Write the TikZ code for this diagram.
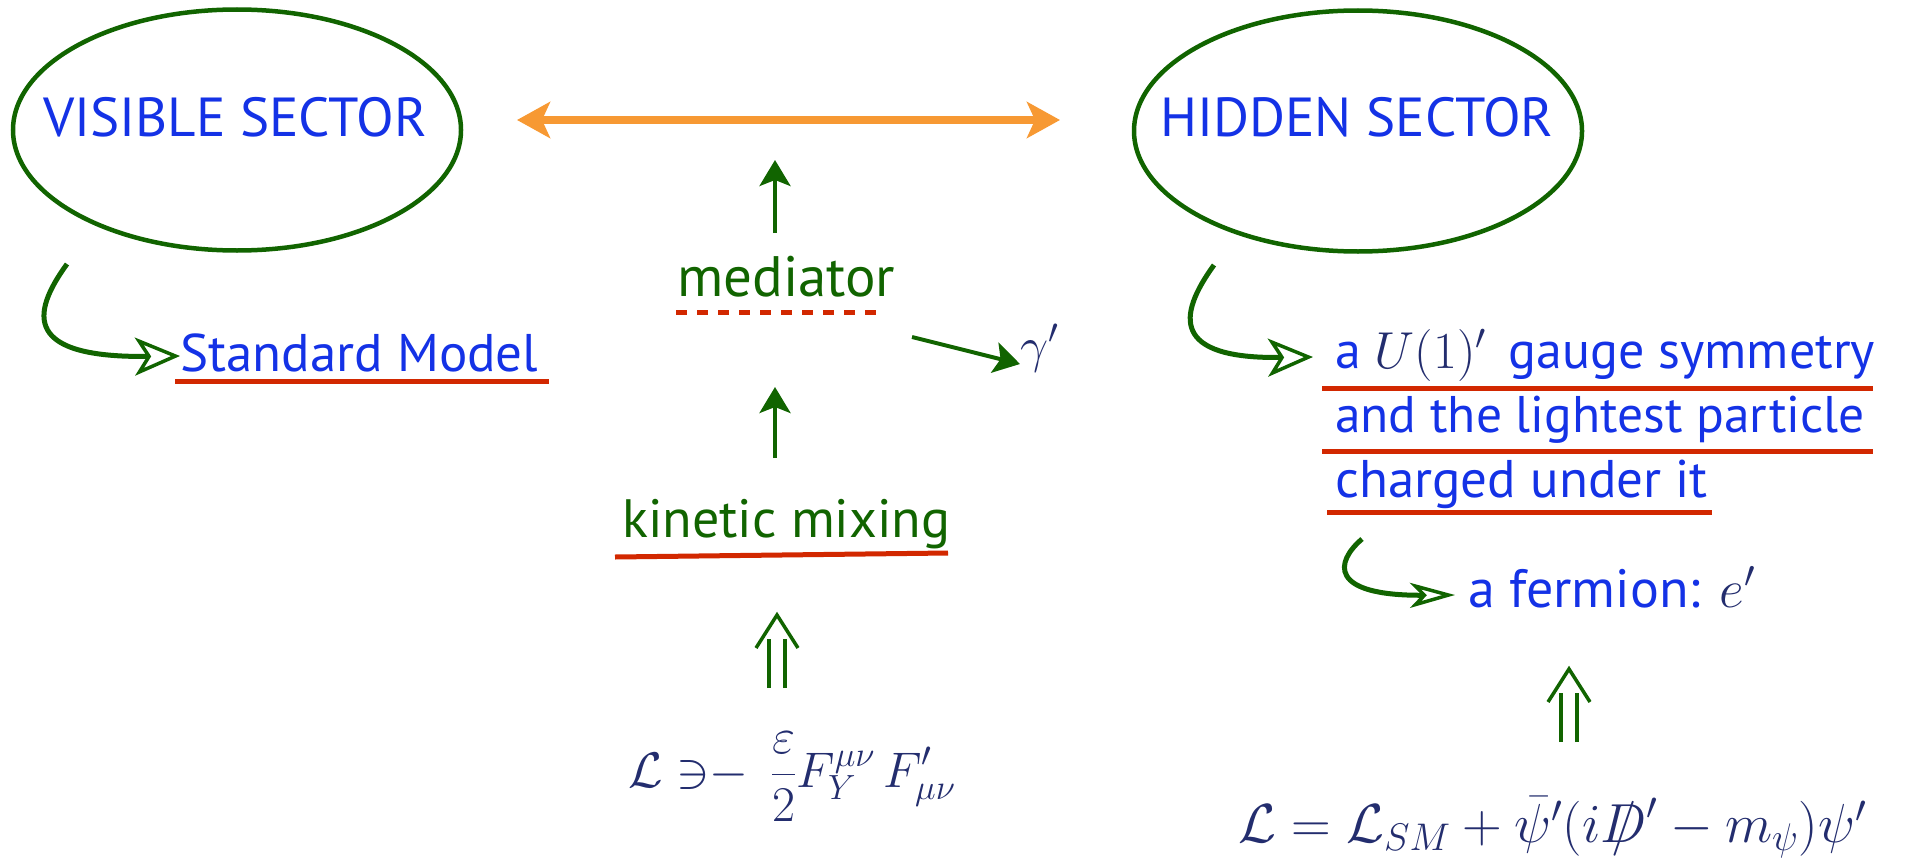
\RequirePackage{fix-cm}
\documentclass[tikz,border=0pt]{standalone}
\usepackage{fontspec}
\setmainfont{PT Sans}
\usetikzlibrary{arrows.meta,shapes.geometric,calc}
\definecolor{dg}{RGB}{17,100,0}
\definecolor{tb}{RGB}{20,50,230}
\definecolor{mn}{RGB}{35,45,110}
\definecolor{ul}{RGB}{210,40,0}
\definecolor{og}{RGB}{247,153,51}
\newcommand{\slD}{\mbox{\ooalign{$D$\cr\hidewidth$/$\hidewidth\cr}}}
\begin{document}
\begin{tikzpicture}[x=1pt,y=-1pt,
  txt/.style={font=\fontsize{53}{63}\selectfont, inner sep=0pt, anchor=base west},
  btxt/.style={txt, text=tb},
  gtxt/.style={txt, text=dg},
  sectxt/.style={btxt, font=\fontsize{55}{66}\selectfont, anchor=base},
  mth/.style={font=\fontsize{55}{66}\selectfont, text=mn, inner sep=0pt, anchor=base west},
  sector/.style={ellipse, draw=dg, line width=4.5pt, minimum width=448pt, minimum height=241pt, inner sep=0pt},
  uline/.style={draw=ul, line width=5pt},
  garrow/.style={draw=dg, line width=4pt, -{Stealth[length=26pt,width=31pt,inset=6pt]}},
  curvearr/.style={draw=dg, line width=5pt, -{Stealth[open, length=45pt, width=38pt, inset=12pt, line width=3.5pt]}},
  dblline/.style={draw=dg, line width=3.5pt},
  oarrow/.style={draw=og, line width=8pt, {Stealth[length=33pt,width=36pt,inset=8pt]}-{Stealth[length=33pt,width=36pt,inset=8pt]}}
]
\useasboundingbox (0,0) rectangle (1905,859);

% sectors
\node[sector] (visE) at (237,130) {};
\node[sectxt] (vis) at (235,136) {VISIBLE SECTOR};
\node[sector] (hidE) at (1358,131) {};
\node[sectxt] (hid) at (1357,136) {HIDDEN SECTOR};

% orange double arrow
\coordinate (oL) at (517,120);
\coordinate (oR) at (1060,120);
\draw[oarrow] (oL) -- (oR);

% visible side
\node[btxt] (sm) at (180,371) {Standard Model};
\draw[uline] (175,381) -- (549,381);
\draw[curvearr] (67,264) .. controls (30,315) and (25,358) .. (sm.west |- 0,356);

% middle column
\node[gtxt, font=\fontsize{57}{68}\selectfont] (med) at (677,296) {mediator};
\draw[draw=ul, line width=5pt, dash pattern=on 11pt off 10pt] (676,312) -- (879,312);
\coordinate (m1b) at (775,233);
\coordinate (m1t) at (775,160);
\draw[garrow] (m1b) -- (m1t);
\node[mth, font=\fontsize{50}{60}\selectfont] (gam) at (1020,362) {$\gamma'$};
\coordinate (g0) at (912,337);
\draw[garrow] (g0) -- (gam.west |- 0,364);
\node[gtxt, font=\fontsize{54}{64}\selectfont] (kin) at (622,537) {kinetic mixing};
\draw[uline] (615,557) -- (948,553);
\coordinate (m2b) at (775,458);
\coordinate (m2t) at (775,387);
\draw[garrow] (m2b) -- (m2t);

\node[mth, font=\fontsize{50}{60}\selectfont] (lagL) at (628,787) {$\displaystyle \mathcal{L}\;{\ni}{-}\;\,\frac{\varepsilon}{2}F_Y^{\mu\nu}\,F'_{\mu\nu}$};
% double arrow left
\coordinate (d1b) at (777,688);
\coordinate (d1t) at (777,615);
\draw[dblline] ($(d1b)+(-8,0)$) -- ($(d1t)+(-8,24)$);
\draw[dblline] ($(d1b)+(8,0)$) -- ($(d1t)+(8,24)$);
\draw[dblline, line join=miter] ($(d1t)+(-21,33)$) -- (d1t) -- ($(d1t)+(21,33)$);

% hidden side
\node[btxt, font=\fontsize{52}{62}\selectfont] (u1) at (1335,368) {a {\color{mn}$U(1)'$}\, gauge symmetry};
\draw[uline] (1322,388) -- (1873,388);
\node[btxt, font=\fontsize{51.5}{62}\selectfont] (l2) at (1335,432) {and the lightest particle};
\draw[uline] (1322,451) -- (1873,451);
\node[btxt] (l3) at (1335,497) {charged under it};
\draw[uline] (1327,512) -- (1712,512);
\draw[curvearr] (1214,265) .. controls (1177,316) and (1172,359) .. (1313,357);

\node[btxt, font=\fontsize{54}{64}\selectfont] (fer) at (1468,607) {a fermion: {\color{mn}$e'$}};
\draw[curvearr, -{Stealth[open, length=45pt, width=25pt, inset=12pt, line width=3.5pt]}] (1362,539) .. controls (1335,562) and (1328,596) .. (1455,595);

\coordinate (d2b) at (1569,742);
\coordinate (d2t) at (1569,669);
\draw[dblline] ($(d2b)+(-8,0)$) -- ($(d2t)+(-8,24)$);
\draw[dblline] ($(d2b)+(8,0)$) -- ($(d2t)+(8,24)$);
\draw[dblline, line join=miter] ($(d2t)+(-21,33)$) -- (d2t) -- ($(d2t)+(21,33)$);

\node[mth] (lagR) at (1238,842) {$\mathcal{L}=\mathcal{L}_{SM}+\bar{\psi}'(i\slD'-m_\psi)\psi'$};
\end{tikzpicture}
\end{document}
